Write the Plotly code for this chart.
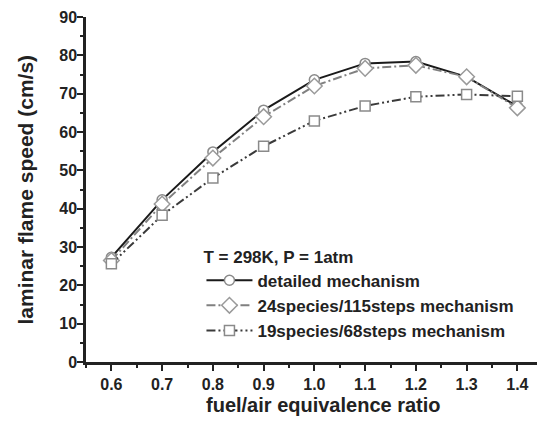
import plotly.graph_objects as go

phi = [0.6, 0.7, 0.8, 0.9, 1.0, 1.1, 1.2, 1.3, 1.4]
detailed = [27.3, 42.3, 54.8, 65.7, 73.6, 77.9, 78.4, 74.4, 66.7]
sp24 = [26.5, 41.2, 53.2, 64.0, 72.0, 76.6, 77.4, 74.4, 66.3]
sp19 = [25.6, 38.3, 48.0, 56.3, 62.9, 66.8, 69.2, 69.8, 69.3]

names = ["detailed mechanism", "24species/115steps mechanism", "19species/68steps mechanism"]
legend_title = "T = 298K, P = 1atm"
x_title = "fuel/air equivalence ratio"
y_title = "laminar flame speed (cm/s)"

FONT = "Liberation Sans, Arial, sans-serif"
W, H = 537, 421
ML, MR, MT, MB = 86, 0, 17, 59

fig = go.Figure()
fig.add_trace(go.Scatter(
    x=phi, y=detailed, name=names[0], mode="lines+markers", legendgroup="a",
    line=dict(color="#1a1a1a", width=2),
    marker=dict(symbol="circle", size=10, color="white", line=dict(color="#8a8a8a", width=1.5)),
))
fig.add_trace(go.Scatter(
    x=phi, y=sp24, name=names[1], mode="lines+markers", legendgroup="b",
    line=dict(color="#808080", width=2, dash="9px,3px,2px,3px"),
    marker=dict(symbol="diamond", size=12, color="white", line=dict(color="#9a9a9a", width=1.5)),
))
fig.add_trace(go.Scatter(
    x=phi, y=sp19, name=names[2], mode="lines+markers", legendgroup="c",
    line=dict(color="#3a3a3a", width=2, dash="9px,3px,2px,3px,2px,3px"),
    marker=dict(symbol="square", size=10, color="white", line=dict(color="#8a8a8a", width=1.5)),
))

xr = [0.55, 0.55 + (W - ML - MR) / 507.5]
tickfont = dict(family=FONT, size=16, color="#222", weight="bold")

fig.update_layout(
    width=W, height=H,
    margin=dict(l=ML, r=MR, t=MT, b=MB),
    paper_bgcolor="white", plot_bgcolor="white",
    font=dict(family=FONT, color="#222"),
    showlegend=True,
    legend=dict(
        x=0.256, y=0.352, xanchor="left", yanchor="top",
        bgcolor="rgba(0,0,0,0)",
        font=dict(family=FONT, size=17, color="#222", weight="bold"),
        title=dict(text=legend_title, font=dict(family=FONT, size=17, color="#222", weight="bold")),
        tracegroupgap=0,
        itemwidth=46,
    ),
    xaxis=dict(
        range=xr, tickvals=[0.6, 0.7, 0.8, 0.9, 1.0, 1.1, 1.2, 1.3, 1.4],
        ticktext=["0.6", "0.7", "0.8", "0.9", "1.0", "1.1", "1.2", "1.3", "1.4"],
        ticks="outside", ticklen=6, tickwidth=2, tickcolor="#222",
        minor=dict(tickvals=[0.55, 0.65, 0.75, 0.85, 0.95, 1.05, 1.15, 1.25, 1.35],
                   ticks="outside", ticklen=3, tickwidth=2, tickcolor="#222"),
        showline=True, linewidth=2.5, linecolor="#222",
        showgrid=False, zeroline=False, tickfont=tickfont,
    ),
    xaxis2=dict(
        range=xr, overlaying="x", side="top", anchor="y",
        tickvals=[0.6, 0.7, 0.8, 0.9, 1.0, 1.1, 1.2, 1.3, 1.4],
        ticks="inside", ticklen=6, tickwidth=2, tickcolor="#222",
        minor=dict(tickvals=[0.55, 0.65, 0.75, 0.85, 0.95, 1.05, 1.15, 1.25, 1.35],
                   ticks="inside", ticklen=3, tickwidth=2, tickcolor="#222"),
        showticklabels=False, showline=True, linewidth=2.5, linecolor="#222",
        showgrid=False, zeroline=False,
    ),
    yaxis=dict(
        range=[0, 90], tickvals=list(range(0, 91, 10)),
        ticks="outside", ticklen=6, tickwidth=2, tickcolor="#222",
        minor=dict(tickvals=list(range(5, 90, 10)), ticks="outside", ticklen=3,
                   tickwidth=2, tickcolor="#222"),
        showline=True, linewidth=2.5, linecolor="#222",
        showgrid=False, zeroline=False, tickfont=tickfont,
        ticklabelstandoff=-3,
    ),
    yaxis2=dict(
        range=[0, 90], overlaying="y", side="right", anchor="x",
        tickvals=list(range(0, 91, 10)), ticks="inside", ticklen=3, tickwidth=2,
        tickcolor="#222", showticklabels=False, showline=False,
        showgrid=False, zeroline=False,
    ),
    annotations=[
        dict(text=x_title, xref="paper", yref="paper",
             x=(323 - ML) / (W - ML - MR), y=-(405 - (H - MB)) / (H - MT - MB),
             xanchor="center", yanchor="middle", showarrow=False,
             font=dict(family=FONT, size=20, color="#222", weight="bold")),
        dict(text=y_title, xref="paper", yref="paper", textangle=-90,
             x=-(ML - 25) / (W - ML - MR), y=0.5,
             xanchor="center", yanchor="middle", showarrow=False,
             font=dict(family=FONT, size=21, color="#222", weight="bold")),
    ],
)

fig.write_html("out.html")
